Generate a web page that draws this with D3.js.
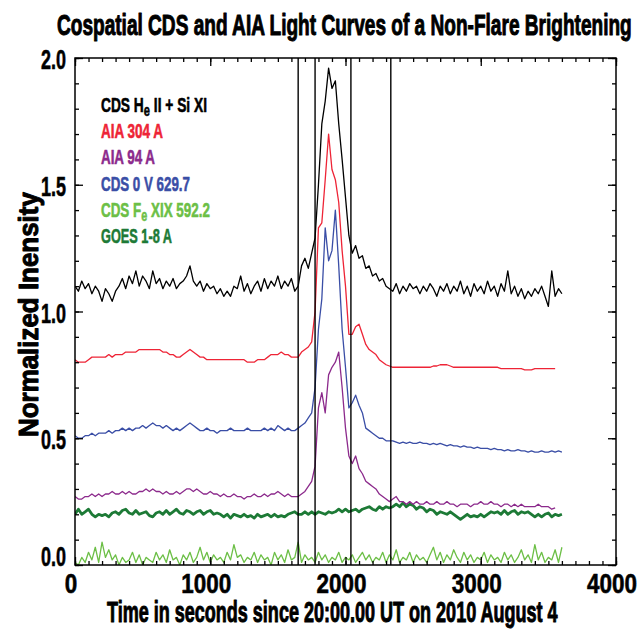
<!DOCTYPE html>
<html><head><meta charset="utf-8">
<script src="https://cdn.jsdelivr.net/npm/d3@7"></script>
<style>body{margin:0;background:#fff}</style>
</head><body><svg id="c" width="638" height="632"></svg>
<script>
// ---- sampling grids (seconds since 20:00 UT) ----
const cdsTimes = d3.range(0, 3601, 25);
const aiaTimes = d3.range(0, 3551, 25);
const goesTimes = d3.range(0, 3601, 25);

// ---- series values (normalized intensity) ----
const cdsHeSi = [
1.10,1.08,1.12,1.09,1.11,1.07,1.10,1.08,1.04,1.09,
1.07,1.04,1.08,1.10,1.13,1.09,1.14,1.11,1.16,1.10,
1.14,1.12,1.09,1.16,1.11,1.13,1.09,1.12,1.10,1.13,
1.09,1.11,1.12,1.14,1.18,1.12,1.10,1.12,1.08,1.11,
1.09,1.10,1.07,1.09,1.06,1.08,1.06,1.10,1.09,1.14,
1.08,1.11,1.07,1.10,1.12,1.08,1.13,1.09,1.12,1.10,
1.14,1.09,1.12,1.10,1.13,1.08,1.10,1.18,1.21,1.17,
1.23,1.29,1.50,1.74,1.83,1.96,1.88,1.91,1.74,1.60,
1.45,1.30,1.23,1.26,1.21,1.22,1.17,1.18,1.14,1.15,
1.12,1.13,1.10,1.09,
1.08,1.11,1.07,1.10,1.08,1.11,1.09,1.10,1.07,1.10,
1.08,1.11,1.09,1.06,1.10,1.08,1.11,1.07,1.10,1.08,
1.12,1.07,1.10,1.06,1.11,1.08,1.10,1.07,1.12,1.08,
1.10,1.06,1.11,1.08,1.16,1.07,1.10,1.06,1.09,1.05,
1.08,1.06,1.09,1.07,1.10,1.06,1.02,1.16,1.06,1.09,1.07];
const aia304 = [
0.81,0.80,0.80,0.80,0.81,0.82,0.82,0.82,0.82,0.82,
0.83,0.82,0.83,0.83,0.83,0.84,0.84,0.84,0.84,0.85,
0.85,0.85,0.85,0.85,0.85,0.85,0.84,0.84,0.83,0.83,
0.82,0.82,0.83,0.84,0.85,0.84,0.83,0.82,0.82,0.81,
0.81,0.81,0.81,0.81,0.81,0.81,0.81,0.81,0.81,0.81,
0.81,0.80,0.80,0.80,0.81,0.81,0.81,0.82,0.83,0.83,
0.83,0.84,0.83,0.83,0.82,0.82,0.82,0.84,0.85,0.86,
0.88,1.00,1.33,1.35,1.52,1.70,1.56,1.52,1.43,1.24,
1.10,0.91,0.91,0.94,0.95,0.91,0.87,0.85,0.84,0.83,
0.81,0.80,0.79,0.785,0.78,0.78,0.78,0.78,0.78,0.78,
0.78,0.78,0.78,0.78,0.78,0.78,0.785,0.785,0.79,0.79,
0.79,0.785,0.78,0.78,0.78,0.78,0.78,0.78,0.78,0.78,
0.78,0.78,0.78,0.78,0.78,0.78,0.775,0.775,0.775,0.775,
0.775,0.775,0.775,0.77,0.77,0.77,0.775,0.775,0.775,0.775,
0.775,0.775,0.775];
const aia94 = [
0.27,0.26,0.26,0.27,0.27,0.28,0.27,0.28,0.27,0.28,
0.28,0.29,0.28,0.28,0.29,0.28,0.29,0.28,0.28,0.29,
0.29,0.30,0.29,0.30,0.29,0.29,0.28,0.29,0.28,0.28,
0.29,0.28,0.29,0.30,0.30,0.29,0.30,0.29,0.28,0.28,
0.29,0.28,0.28,0.27,0.28,0.27,0.27,0.28,0.27,0.27,
0.26,0.27,0.27,0.28,0.27,0.27,0.28,0.27,0.28,0.28,
0.29,0.28,0.27,0.28,0.27,0.27,0.27,0.28,0.29,0.31,
0.33,0.39,0.62,0.68,0.60,0.75,0.78,0.80,0.84,0.70,
0.54,0.43,0.40,0.43,0.38,0.36,0.33,0.32,0.31,0.30,
0.28,0.27,0.26,0.25,0.26,0.27,0.25,0.25,0.24,0.25,
0.24,0.25,0.24,0.24,0.25,0.24,0.24,0.25,0.24,0.24,
0.25,0.24,0.24,0.23,0.24,0.24,0.24,0.23,0.24,0.24,
0.25,0.24,0.24,0.25,0.24,0.24,0.23,0.24,0.24,0.23,
0.24,0.23,0.24,0.23,0.23,0.23,0.23,0.24,0.23,0.23,
0.23,0.22,0.225];
const cdsOV = [
0.51,0.50,0.50,0.51,0.51,0.52,0.51,0.52,0.52,0.52,
0.53,0.52,0.53,0.53,0.54,0.53,0.54,0.53,0.54,0.54,
0.55,0.54,0.55,0.56,0.55,0.55,0.54,0.55,0.54,0.53,
0.54,0.53,0.54,0.55,0.56,0.55,0.54,0.53,0.53,0.54,
0.53,0.53,0.52,0.53,0.53,0.53,0.54,0.53,0.53,0.53,
0.53,0.54,0.53,0.53,0.53,0.53,0.54,0.53,0.54,0.53,
0.55,0.54,0.53,0.54,0.53,0.53,0.54,0.55,0.56,0.58,
0.60,0.70,0.93,1.05,1.33,1.20,1.24,1.40,1.18,0.93,
0.78,0.62,0.64,0.67,0.63,0.60,0.54,0.53,0.52,0.51,
0.50,0.50,0.49,0.49,0.49,0.485,0.48,0.485,0.48,0.485,
0.48,0.48,0.485,0.48,0.48,0.475,0.48,0.475,0.48,0.475,
0.47,0.475,0.47,0.47,0.465,0.47,0.465,0.465,0.46,0.465,
0.46,0.46,0.46,0.455,0.46,0.455,0.455,0.45,0.455,0.45,
0.45,0.455,0.45,0.45,0.445,0.45,0.445,0.445,0.45,0.445,
0.445,0.45,0.445,0.45,0.445];
const cdsFeXIX = [
0.01,0.00,0.03,0.01,0.05,0.02,0.07,0.01,0.09,0.03,
0.06,0.02,0.04,0.00,0.03,0.01,0.02,0.05,0.01,0.04,
0.00,0.03,0.02,0.01,0.05,0.02,0.04,0.01,0.06,0.02,
0.03,0.00,0.04,0.02,0.05,0.01,0.03,0.07,0.02,0.05,
0.01,0.04,0.02,0.03,0.01,0.05,0.02,0.08,0.03,0.04,
0.01,0.03,0.02,0.05,0.01,0.04,0.02,0.03,0.00,0.05,
0.02,0.04,0.01,0.06,0.02,0.03,0.09,0.01,0.04,0.02,
0.03,0.01,0.05,0.02,0.04,0.01,0.03,0.02,0.05,0.01,
0.03,0.02,0.04,0.01,0.03,0.05,0.02,0.04,0.01,0.03,
0.02,0.05,0.01,0.04,0.02,0.06,0.01,0.03,0.02,0.05,
0.01,0.04,0.02,0.03,0.01,0.04,0.07,0.02,0.05,0.01,
0.04,0.02,0.06,0.03,0.01,0.05,0.02,0.04,0.01,0.03,
0.02,0.05,0.01,0.04,0.02,0.03,0.01,0.05,0.02,0.04,
0.01,0.03,0.06,0.02,0.04,0.01,0.08,0.02,0.05,0.01,
0.03,0.02,0.06,0.01,0.07];
const goes18 = [
0.20,0.22,0.20,0.21,0.22,0.20,0.19,0.20,0.195,0.20,
0.19,0.205,0.21,0.20,0.215,0.22,0.205,0.20,0.215,0.20,
0.205,0.21,0.195,0.19,0.205,0.21,0.20,0.215,0.20,0.21,
0.22,0.205,0.20,0.215,0.21,0.20,0.21,0.215,0.20,0.21,
0.215,0.20,0.205,0.20,0.19,0.20,0.185,0.20,0.195,0.19,
0.20,0.19,0.195,0.185,0.20,0.19,0.195,0.20,0.19,0.20,
0.19,0.195,0.19,0.20,0.205,0.21,0.20,0.20,0.21,0.20,
0.21,0.20,0.21,0.205,0.20,0.21,0.205,0.21,0.22,0.21,
0.22,0.21,0.215,0.22,0.21,0.22,0.225,0.23,0.22,0.215,
0.23,0.22,0.23,0.225,0.23,0.24,0.23,0.245,0.23,0.24,
0.235,0.22,0.23,0.225,0.21,0.22,0.215,0.20,0.21,0.205,
0.20,0.21,0.20,0.19,0.18,0.19,0.20,0.19,0.195,0.19,
0.20,0.19,0.20,0.21,0.205,0.21,0.20,0.215,0.20,0.21,
0.215,0.20,0.21,0.205,0.21,0.20,0.19,0.20,0.19,0.20,
0.205,0.19,0.20,0.195,0.20];

const markerTimes = [1650, 1775, 2040, 2335];
const xTickLabels = [0, 1000, 2000, 3000, 4000];
const yTickLabels = [0.0, 0.5, 1.0, 1.5, 2.0];
const legendNames = [
  [["CDS H",0],["e",1],[" II + Si XI",0]],
  [["AIA 304 A",0]],
  [["AIA 94 A",0]],
  [["CDS 0 V 629.7",0]],
  [["CDS F",0],["e",1],[" XIX 592.2",0]],
  [["GOES 1-8 A",0]]
];
const seriesColors = ["#000000","#ee2436","#8c2a8c","#3a4ea6","#6cbf46","#1d7a36"];
const seriesData = [
  [cdsTimes, cdsHeSi], [aiaTimes, aia304], [aiaTimes, aia94],
  [cdsTimes, cdsOV], [cdsTimes, cdsFeXIX], [goesTimes, goes18]
];
const seriesWidths = [1.3,1.3,1.3,1.3,1.3,2.8];
const legendWidths = [106, 62, 54, 89, 109, 71];

const FONT = "'Liberation Sans',Arial,sans-serif";
const svg = d3.select("#c");
svg.append("rect").attr("width",638).attr("height",632).attr("fill","#fff");

const L = 75, R = 616, T = 58, B = 565;
const x = d3.scaleLinear().domain([0,4000]).range([L,R]);
const y = d3.scaleLinear().domain([0,2]).range([B,T]);

function label(parent, str, px, py, opts){
  const g = parent.append("g");
  const t = g.append("text").attr("x",0).attr("y",0)
    .attr("font-family",FONT).attr("font-weight","bold")
    .attr("font-size",opts.size).attr("fill",opts.color||"#000")
    .attr("stroke",opts.color||"#000").attr("stroke-width",opts.sw==null?0.8:opts.sw)
    .attr("stroke-linejoin","round")
    .attr("text-anchor",opts.anchor||"start");
  if (typeof str === "string") t.text(str);
  else str(t);
  const w = t.node().getComputedTextLength();
  const s = opts.width ? opts.width / w : (opts.scale||1);
  g.attr("transform",`translate(${px},${py}) ${opts.rotate?`rotate(${opts.rotate})`:""} scale(${s},1)`);
  return g;
}

svg.append("defs").append("clipPath").attr("id","clip")
  .append("rect").attr("x",L).attr("y",T).attr("width",R-L).attr("height",B-T);

const plot = svg.append("g").attr("clip-path","url(#clip)");
const line = d3.line().x(d=>x(d[0])).y(d=>y(d[1]));
[5,4,3,2,1,0].forEach(i=>{
  const [ts, vs] = seriesData[i];
  const pts = vs.map((v,k)=>[ts[k], v]);
  plot.append("path").attr("d", line(pts)).attr("fill","none")
    .attr("stroke", seriesColors[i]).attr("stroke-width", seriesWidths[i])
    .attr("stroke-linejoin","round");
});

plot.selectAll("line.mk").data(markerTimes).enter().append("line")
  .attr("x1",d=>x(d)).attr("x2",d=>x(d)).attr("y1",T).attr("y2",B)
  .attr("stroke","#000").attr("stroke-width",1.4);

function styleAxis(g){
  g.select(".domain").remove();
  g.selectAll(".tick line").attr("stroke","#000").attr("stroke-width",1.3);
}
const minorX = d3.range(0,4001,100), minorY = d3.range(0,2.001,0.1);
[[d3.axisBottom,B,x,minorX,xTickLabels,"y"],[d3.axisTop,T,x,minorX,xTickLabels,"y"],
 [d3.axisLeft,L,y,minorY,yTickLabels,"x"],[d3.axisRight,R,y,minorY,yTickLabels,"x"]].forEach(([ax,pos,sc,mn,mj,dir])=>{
  const tr = dir==="y" ? `translate(0,${pos})` : `translate(${pos},0)`;
  svg.append("g").attr("transform",tr).call(ax(sc).tickValues(mn).tickSize(-4).tickFormat("")).call(styleAxis);
  svg.append("g").attr("transform",tr).call(ax(sc).tickValues(mj).tickSize(-8).tickFormat("")).call(styleAxis);
});

svg.append("rect").attr("x",L).attr("y",T).attr("width",R-L).attr("height",B-T)
  .attr("fill","none").attr("stroke","#000").attr("stroke-width",1.5);

// tick labels
const probe = svg.append("text").attr("font-family",FONT).attr("font-weight","bold").attr("font-size",28).text("1000");
const tickScale = 50 / probe.node().getComputedTextLength();
probe.remove();
const tl = svg.append("g");
xTickLabels.forEach(v=>{
  label(tl, d3.format("d")(v), x(v)-4, 593, {size:28, anchor:"middle", scale:tickScale, sw:0.6});
});
yTickLabels.forEach(v=>{
  label(tl, d3.format(".1f")(v), 66, Math.min(y(v)+11, 566), {size:28, anchor:"end", width:25, sw:0.6});
});

// title and axis titles
label(svg, "Cospatial CDS and AIA Light Curves of a Non-Flare Brightening", 57, 35, {size:29, width:575, sw:1.0});
label(svg, "Time in seconds since 20:00.00 UT on 2010 August 4", 107, 622, {size:29, width:451, sw:1.0});
label(svg, "Normalized Inensity", 38, 437, {size:28, width:245, rotate:-90, sw:1.0});

// legend
legendNames.forEach((parts,i)=>{
  label(svg, t=>{
    parts.forEach(([s,sub],k)=>{
      const ts = t.append("tspan").text(s);
      if (sub) ts.attr("dy",4).attr("font-size",17);
      else if (k>0) ts.attr("dy",-4);
    });
  }, 101, 112 + i*26.2, {size:21, width:legendWidths[i], color:seriesColors[i], sw:0.6});
});
</script></body></html>
